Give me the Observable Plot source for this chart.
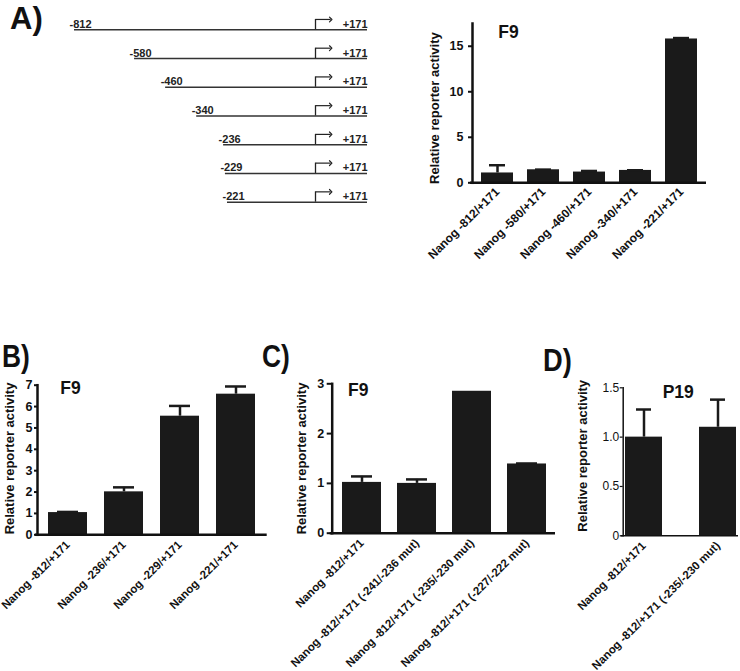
<!DOCTYPE html>
<html><head><meta charset="utf-8">
<script src="https://cdn.jsdelivr.net/npm/d3@7"></script>
<script src="https://cdn.jsdelivr.net/npm/@observablehq/plot@0.6"></script>
<style>
body{margin:0;background:#fff;}
#fig{position:relative;width:740px;height:671px;overflow:hidden;font-family:"Liberation Sans",Arial,sans-serif;background:#fff;}
.panel{position:absolute;}
.letter{position:absolute;font-weight:bold;font-size:31px;line-height:1;transform-origin:left top;color:#111;}
</style></head><body><div id="fig"></div>
<script>
// ---- data ----
const constructStarts = [-812, -580, -460, -340, -236, -229, -221];
const constructEnd = 171;
const tss = 0;

const aCategories = ["Nanog -812/+171", "Nanog -580/+171", "Nanog -460/+171", "Nanog -340/+171", "Nanog -221/+171"];
const aMeans = [1.08, 1.43, 1.18, 1.36, 15.8];
const aSem = [0.85, 0.02, 0.12, 0.02, 0.1];

const bCategories = ["Nanog -812/+171", "Nanog -236/+171", "Nanog -229/+171", "Nanog -221/+171"];
const bMeans = [1.04, 2.01, 5.55, 6.58];
const bSem = [0.03, 0.21, 0.48, 0.36];

const cCategories = ["Nanog -812/+171", "Nanog -812/+171 (-241/-236 mut)", "Nanog -812/+171 (-235/-230 mut)", "Nanog -812/+171 (-227/-222 mut)"];
const cMeans = [1.02, 1.0, 2.85, 1.39];
const cSem = [0.12, 0.08, 0, 0.01];

const dCategories = ["Nanog -812/+171", "Nanog -812/+171 (-235/-230 mut)"];
const dMeans = [1.0, 1.10];
const dSem = [0.28, 0.28];

const yTicksA = [0, 5, 10, 15];
const yTicksB = [0, 1, 2, 3, 4, 5, 6, 7];
const yTicksC = [0, 1, 2, 3];
const yTicksD = [0, 0.5, 1.0, 1.5];

const yLabel = "Relative reporter activity";
// ---- end data ----

const fig = document.getElementById("fig");
const FONT = "'Liberation Sans', Arial, sans-serif";
const BAR = "#1a1a1a";
const intFmt = d => String(d);

function place(el, left, top) {
  el.classList.add("panel");
  el.style.left = left + "px";
  el.style.top = top + "px";
  fig.appendChild(el);
}

// Construct diagram (panel A, left)
{
  const rows = constructStarts.map((s, i) => ({start: s, end: constructEnd, row: i}));
  const lab = {fontSize: 11, fontWeight: "bold", fill: "#222"};
  const p = Plot.plot({
    width: 380, height: 220, margin: 0,
    style: {fontFamily: FONT, background: "transparent", overflow: "visible"},
    x: {type: "linear", domain: [-812, -221, 0, 171], range: [74, 227, 315, 367], axis: null},
    y: {domain: [0, 6], range: [29.3, 201.7], axis: null},
    marks: [
      Plot.ruleY(rows, {y: "row", x1: "start", x2: "end", stroke: "#333", strokeWidth: 1.6}),
      Plot.text(rows, {x: "start", y: "row", text: d => String(d.start), textAnchor: "start", lineAnchor: "bottom", dx: -5, dy: -2, ...lab}),
      Plot.text(rows, {x: "end", y: "row", text: d => "+" + d.end, textAnchor: "end", lineAnchor: "bottom", dy: -2, ...lab}),
      Plot.ruleX(rows, {x: () => tss, y1: "row", y2: d => d.row - 0.36, stroke: "#222", strokeWidth: 1.3}),
      Plot.link(rows, {x1: () => tss, x2: () => tss + 50, y1: d => d.row - 0.36, y2: d => d.row - 0.36, stroke: "#222", strokeWidth: 1.2, markerEnd: "arrow"})
    ]
  });
  place(p, 0, 0);
}

function barChart(o) {
  const rows = o.cats.map((c, i) => ({cat: c, mean: o.means[i], sem: o.sem[i]}));
  const err = rows.filter(d => d.sem > 0);
  const p = Plot.plot({
    width: o.width, height: o.height,
    marginLeft: o.ml, marginRight: o.mr, marginTop: o.mt, marginBottom: o.mb,
    style: {fontFamily: FONT, background: "transparent", overflow: "visible", color: "#111"},
    x: {domain: o.cats, paddingInner: o.pi, paddingOuter: o.po, align: 0.5},
    y: {domain: o.yDomain},
    marks: [
      Plot.barY(rows, {x: "cat", y: "mean", fill: BAR}),
      Plot.ruleX(err, {x: "cat", y1: "mean", y2: d => d.mean + d.sem, stroke: BAR, strokeWidth: o.errW}),
      Plot.tickY(err, {x: "cat", y: d => d.mean + d.sem, stroke: BAR, strokeWidth: o.errW, insetLeft: o.capInset, insetRight: o.capInset}),
      Plot.ruleY([0], {stroke: "#111", strokeWidth: o.axisW, insetLeft: -2}),
      Plot.frame({anchor: "left", stroke: "#111", strokeWidth: o.axisW}),
      Plot.axisY({ticks: o.yTicks, tickSize: o.tickSize, tickPadding: o.tickPad, tickFormat: o.tickFormat || intFmt, label: null,
                  fontSize: o.yFont, fontWeight: o.yWeight || "bold", fontFamily: o.yFamily || FONT, strokeWidth: o.axisW * 0.8}),
      Plot.axisX({tickSize: 0, tickPadding: o.xPad, tickRotate: -45, label: null, fontSize: o.xFont, fontWeight: "bold"}),
      Plot.text([o.title], {frameAnchor: "top-left", dx: o.tdx, dy: o.tdy, textAnchor: "middle", lineAnchor: "middle", fontSize: 17.5, fontWeight: "bold", fill: "#111"}),
      Plot.text([yLabel], {frameAnchor: "left", rotate: -90, dx: o.ldx, dy: o.ldy, textAnchor: "middle", lineAnchor: "middle", fontSize: 13, fontWeight: "bold", fill: "#111"})
    ]
  });
  place(p, o.left, o.top);
}

barChart({cats: aCategories, means: aMeans, sem: aSem, left: 380, top: 0, width: 360, height: 300,
  ml: 92, mr: 34, mt: 23, mb: 117.7, pi: 0.3, po: 0.15, yDomain: [0, 17.5], yTicks: yTicksA,
  tickSize: 4, tickPad: 5, yFont: 12.5, xFont: 12, xPad: 7, axisW: 2.5, errW: 2.5, capInset: 8,
  title: "F9", tdx: 36, tdy: 9, ldx: -38, ldy: 5});

barChart({cats: bCategories, means: bMeans, sem: bSem, left: 0, top: 300, width: 280, height: 371,
  ml: 37, mr: 13.3, mt: 84.7, mb: 136.7, pi: 0.3, po: 0.2, yDomain: [0, 7], yTicks: yTicksB,
  tickSize: 3, tickPad: 2, yFont: 12.5, xFont: 11.5, xPad: 8, axisW: 2.5, errW: 2.5, capInset: 9,
  title: "F9", tdx: 33, tdy: 3, ldx: -28, ldy: -1.5});

barChart({cats: cCategories, means: cMeans, sem: cSem, left: 280, top: 300, width: 290, height: 371,
  ml: 51.7, mr: 15, mt: 83.3, mb: 138.3, pi: 0.3, po: 0.145, yDomain: [0, 3], yTicks: yTicksC,
  tickSize: 5, tickPad: 3, yFont: 12.5, xFont: 11.5, xPad: 8, axisW: 2.5, errW: 2.5, capInset: 9,
  title: "F9", tdx: 26, tdy: 7, ldx: -30.5, ldy: 0});

barChart({cats: dCategories, means: dMeans, sem: dSem, left: 570, top: 300, width: 170, height: 371,
  ml: 52.7, mr: 2, mt: 87.3, mb: 135.7, pi: 0.5, po: 0.02, yDomain: [0, 1.5], yTicks: yTicksD,
  tickFormat: d => d === 0 ? "0" : d.toFixed(1), yWeight: "normal", yFamily: "'Liberation Sans Narrow', 'Liberation Sans', Arial, sans-serif",
  tickSize: 3, tickPad: 1, yFont: 12, xFont: 11.5, xPad: 8, axisW: 1.5, errW: 2.5, capInset: 11,
  title: "P19", tdx: 55, tdy: 5, ldx: -40, ldy: -6});

// panel letters
[["A)", 10, 3, 1], ["B)", 2, 341, 0.85], ["C)", 262, 341, 0.85], ["D)", 543, 345, 0.88]].forEach(([t, x, y, s]) => {
  const d = document.createElement("div");
  d.className = "letter";
  d.textContent = t;
  d.style.left = x + "px";
  d.style.top = y + "px";
  d.style.transform = `scaleX(${s})`;
  fig.appendChild(d);
});
</script></body></html>
